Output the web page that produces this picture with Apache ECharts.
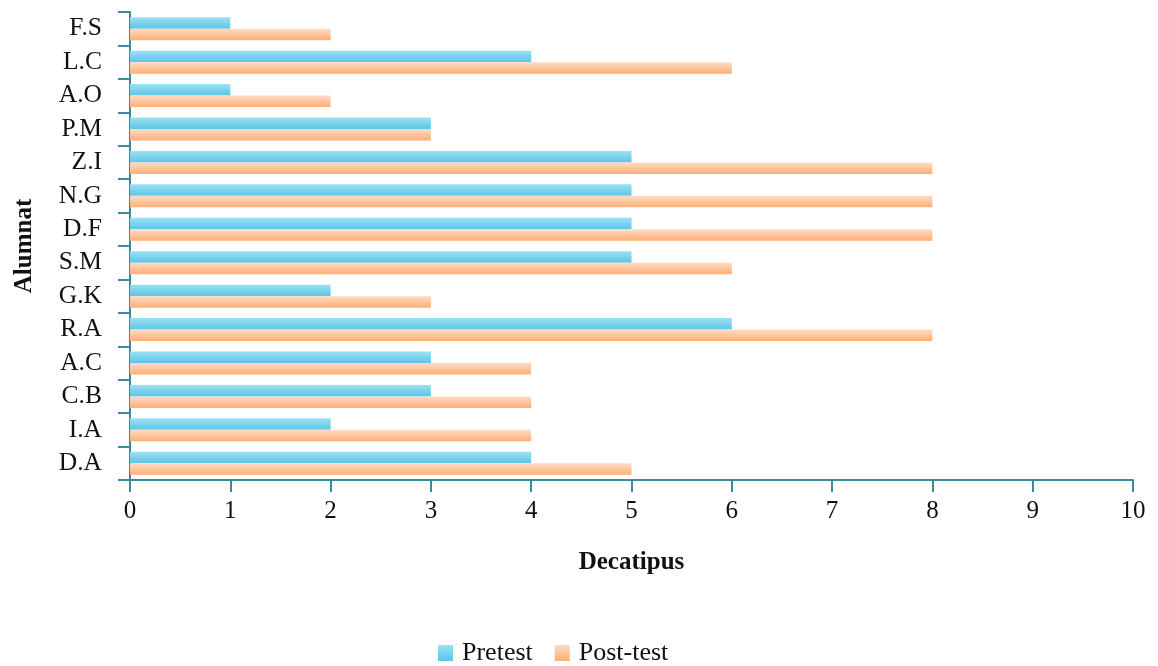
<!DOCTYPE html>
<html>
<head>
<meta charset="utf-8">
<script src="https://cdn.jsdelivr.net/npm/echarts@6/dist/echarts.min.js"></script>
<style>
html,body{margin:0;padding:0;background:#fff;}
#chart{width:1158px;height:666px;}
</style>
</head>
<body>
<div id="chart"></div>
<script>
// Students, listed bottom to top on the category axis
const students = ['D.A','I.A','C.B','A.C','R.A','G.K','S.M','D.F','N.G','Z.I','P.M','A.O','L.C','F.S'];
const pretest  = [4, 2, 3, 3, 6, 2, 5, 5, 5, 5, 3, 1, 4, 1];
const posttest = [5, 4, 4, 4, 8, 3, 6, 8, 8, 8, 3, 2, 6, 2];
const xTicks = [0,1,2,3,4,5,6,7,8,9,10];

const font = '"Liberation Serif","Times New Roman",serif';
const axisColor = '#3a8ba0';

function grad(top, bottom) {
  return new echarts.graphic.LinearGradient(0, 0, 0, 1, [
    {offset: 0, color: top},
    {offset: 1, color: bottom}
  ]);
}
const blue = grad('#9ae2f6', '#5cc5e3');
const orange = grad('#ffdcc4', '#ffae76');

const chart = echarts.init(document.getElementById('chart'), null, {renderer: 'canvas'});
chart.setOption({
  animation: false,
  backgroundColor: '#fff',
  grid: {left: 130, right: 25, top: 12, bottom: 186, containLabel: false, outerBoundsMode: 'none'},
  legend: {
    top: 635,
    left: 433,
    itemWidth: 15,
    itemHeight: 16,
    itemGap: 22,
    icon: 'rect',
    textStyle: {fontFamily: font, fontSize: 26, color: '#111', padding: [0, 0, 0, 4]},
    data: ['Pretest', 'Post-test']
  },
  xAxis: {
    type: 'value',
    min: xTicks[0],
    max: xTicks[xTicks.length - 1],
    interval: 1,
    name: 'Decatipus',
    nameLocation: 'middle',
    nameGap: 70,
    nameTextStyle: {fontFamily: font, fontSize: 25, fontWeight: 'bold', color: '#111'},
    axisLine: {show: true, lineStyle: {color: axisColor, width: 2}},
    axisTick: {show: true, length: 12, lineStyle: {color: axisColor, width: 2}},
    axisLabel: {fontFamily: font, fontSize: 25, color: '#111', margin: 19},
    splitLine: {show: false}
  },
  yAxis: {
    type: 'category',
    data: students,
    name: 'Alumnat',
    nameLocation: 'middle',
    nameGap: 93,
    nameTextStyle: {fontFamily: font, fontSize: 25, fontWeight: 'bold', color: '#111'},
    axisLine: {show: true, lineStyle: {color: axisColor, width: 2}},
    axisTick: {show: true, length: 12, interval: 0, lineStyle: {color: axisColor, width: 2}},
    axisLabel: {fontFamily: font, fontSize: 25.5, color: '#111', margin: 28, interval: 0}
  },
  series: [
    {
      name: 'Pretest',
      type: 'bar',
      data: pretest,
      barWidth: 11.5,
      barGap: '0%',
      itemStyle: {color: blue}
    },
    {
      name: 'Post-test',
      type: 'bar',
      data: posttest,
      barWidth: 11.5,
      barGap: '0%',
      itemStyle: {color: orange}
    }
  ]
});
</script>
</body>
</html>
